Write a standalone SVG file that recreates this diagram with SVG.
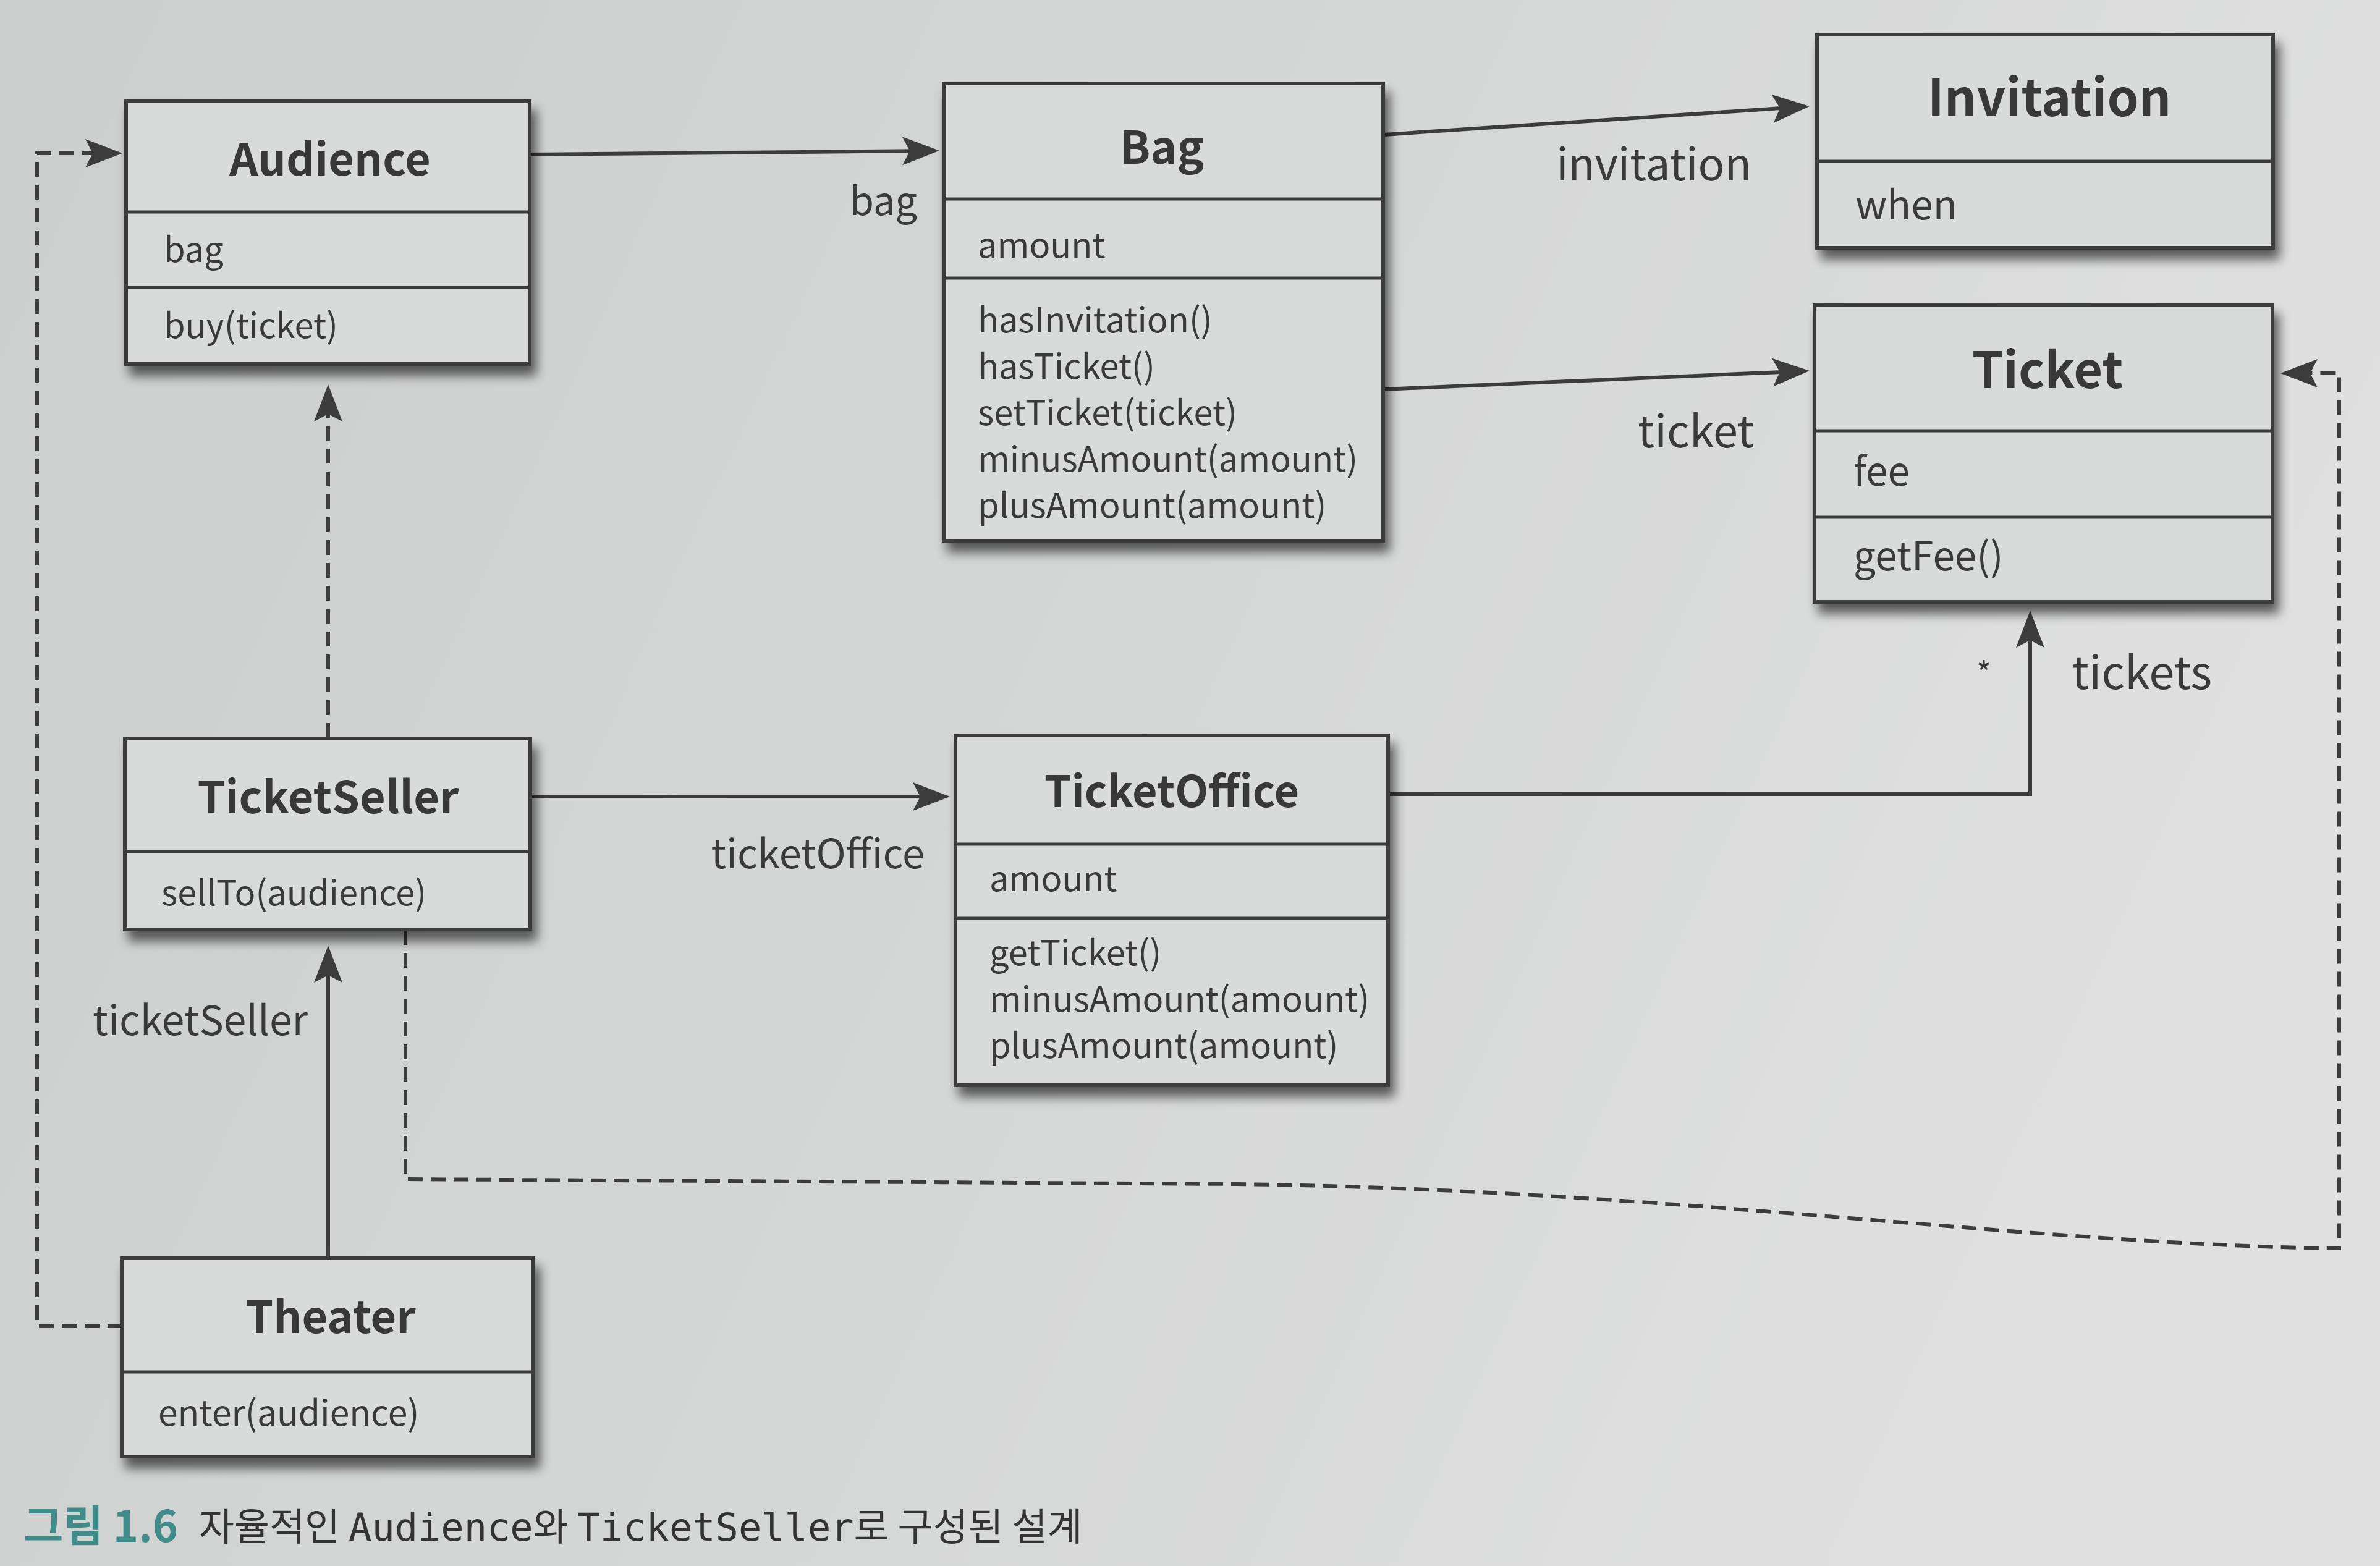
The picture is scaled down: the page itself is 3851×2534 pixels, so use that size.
<svg xmlns="http://www.w3.org/2000/svg" width="3851" height="2534" viewBox="0 0 3851 2534">
<defs>
<linearGradient id="bg" x1="0" y1="0" x2="1" y2="0.3">
<stop offset="0" stop-color="#cbcecd"/>
<stop offset="0.6" stop-color="#d6d8d7"/>
<stop offset="1" stop-color="#dfe0df"/>
</linearGradient>
<filter id="sh" x="-5%" y="-5%" width="115%" height="125%">
<feGaussianBlur in="SourceAlpha" stdDeviation="9"/>
<feOffset dx="8" dy="16"/>
<feComponentTransfer><feFuncA type="linear" slope="0.6"/></feComponentTransfer>
<feMerge><feMergeNode/><feMergeNode in="SourceGraphic"/></feMerge>
</filter>
<marker id="ah" markerUnits="userSpaceOnUse" markerWidth="64" markerHeight="50" viewBox="0 0 64 50" refX="42" refY="25" orient="auto">
<path d="M2,2 L62,25 L2,48 L14,25 Z" fill="#3c3c3c"/>
</marker>
<style>
.box{fill:#d9dbda;stroke:#3b3b3b;stroke-width:6;filter:url(#sh)}
.dv{stroke:#3b3b3b;stroke-width:5}
.t{font-family:"Noto Sans CJK KR","Noto Sans",sans-serif;font-weight:700;font-size:72px;fill:#383838;text-anchor:middle}
.m{font-family:"Noto Sans CJK KR","Noto Sans",sans-serif;font-size:56px;fill:#3a3a3a}
.r{font-size:64px}
.l{font-family:"Noto Sans CJK KR","Noto Sans",sans-serif;font-size:66px;fill:#3a3a3a}
.c{stroke:#3c3c3c;stroke-width:6;fill:none;marker-end:url(#ah)}
.d{stroke-dasharray:24 13}
.cap{font-family:"Noto Sans CJK KR",sans-serif;font-size:62px;fill:#333}
.mono{font-family:"DejaVu Sans Mono","Liberation Mono",monospace}
</style>
</defs>
<rect width="3851" height="2534" fill="url(#bg)"/>

<g id="connectors">
<path class="c" d="M857,250 L1500,244"/>
<path class="c" d="M2239,218 L2908,173.3"/>
<path class="c" d="M2239,630 L2908,600.9"/>
<path class="c" d="M858,1289 H1517"/>
<path class="c" d="M2246,1285 H3285 V1008"/>
<path class="c" d="M531,2036 V1550"/>
<path class="c d" d="M531,1194 V642"/>
<path class="c d" d="M198,2146 H60 V248 H178"/>
<path class="c d" d="M656,1505 V1908 L2000,1916 C2700,1925 3300,2015 3785,2020 V604 H3710"/>
<text class="l" x="1484" y="348" text-anchor="end" style="font-size:63px">bag</text>
<text class="l" x="2518" y="292" style="font-size:71px">invitation</text>
<text class="l" x="2650" y="724" style="font-size:72px">ticket</text>
<text class="l" x="1496" y="1405" text-anchor="end" style="font-size:65px">ticketOffice</text>
<text class="l" x="150" y="1675">ticketSeller</text>
<text class="l" x="3352" y="1115" style="font-size:74px">tickets</text>
<text class="m" x="3210" y="1108" text-anchor="middle" style="font-size:50px">*</text>
</g>

<g id="Audience">
<rect class="box" x="204" y="164" width="653" height="425"/>
<line class="dv" x1="204" y1="343" x2="857" y2="343"/>
<line class="dv" x1="204" y1="465" x2="857" y2="465"/>
<text class="t" x="534" y="284">Audience</text>
<text class="m" x="265" y="424">bag</text>
<text class="m" x="265" y="547">buy(ticket)</text>
</g>

<g id="Bag">
<rect class="box" x="1527" y="135" width="711" height="740"/>
<line class="dv" x1="1527" y1="322" x2="2238" y2="322"/>
<line class="dv" x1="1527" y1="450" x2="2238" y2="450"/>
<text class="t" x="1880" y="265" style="font-size:73px">Bag</text>
<text class="m" x="1582" y="417">amount</text>
<text class="m" x="1582" y="538">hasInvitation()</text>
<text class="m" x="1582" y="613">hasTicket()</text>
<text class="m" x="1582" y="688">setTicket(ticket)</text>
<text class="m" x="1582" y="763">minusAmount(amount)</text>
<text class="m" x="1582" y="838">plusAmount(amount)</text>
</g>

<g id="Invitation">
<rect class="box" x="2940" y="56" width="738" height="345"/>
<line class="dv" x1="2940" y1="261" x2="3678" y2="261"/>
<text class="t" x="3316" y="188" style="font-size:82px">Invitation</text>
<text class="m r" x="3002" y="355">when</text>
</g>

<g id="Ticket">
<rect class="box" x="2936" y="494" width="741" height="480"/>
<line class="dv" x1="2936" y1="697" x2="3677" y2="697"/>
<line class="dv" x1="2936" y1="837" x2="3677" y2="837"/>
<text class="t" x="3313" y="628" style="font-size:81px">Ticket</text>
<text class="m r" x="2999" y="786">fee</text>
<text class="m r" x="2999" y="923">getFee()</text>
</g>

<g id="TicketSeller">
<rect class="box" x="202" y="1195" width="656" height="309"/>
<line class="dv" x1="202" y1="1378" x2="858" y2="1378"/>
<text class="t" x="531" y="1316">TicketSeller</text>
<text class="m" x="261" y="1465">sellTo(audience)</text>
</g>

<g id="TicketOffice">
<rect class="box" x="1546" y="1190" width="700" height="566"/>
<line class="dv" x1="1546" y1="1366" x2="2246" y2="1366"/>
<line class="dv" x1="1546" y1="1486" x2="2246" y2="1486"/>
<text class="t" x="1896" y="1306" style="font-size:70px">TicketOffice</text>
<text class="m" x="1601" y="1442">amount</text>
<text class="m" x="1601" y="1562">getTicket()</text>
<text class="m" x="1601" y="1637">minusAmount(amount)</text>
<text class="m" x="1601" y="1712">plusAmount(amount)</text>
</g>

<g id="Theater">
<rect class="box" x="197" y="2036" width="666" height="321"/>
<line class="dv" x1="197" y1="2220" x2="863" y2="2220"/>
<text class="t" x="535" y="2157">Theater</text>
<text class="m" x="256" y="2307" style="font-size:57px">enter(audience)</text>
</g>

<g id="caption">
<text x="38" y="2495" font-family="Noto Sans CJK KR, sans-serif" font-weight="700" font-size="70" fill="#3f8c8a">그림 1.6</text>
<text class="cap" x="322" y="2493">자율적인 <tspan class="mono">Audience</tspan>와 <tspan class="mono">TicketSeller</tspan>로 구성된 설계</text>
</g>
</svg>
